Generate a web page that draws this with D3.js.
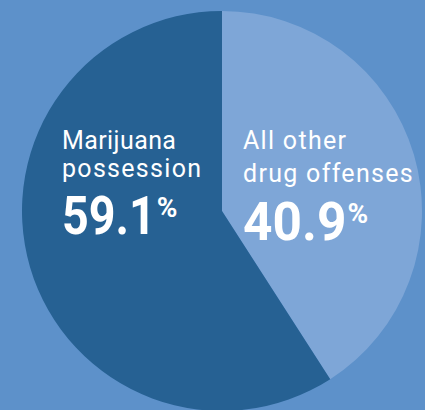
<!DOCTYPE html>
<html>
<head>
<meta charset="utf-8">
<script src="https://cdn.jsdelivr.net/npm/d3@7"></script>
<style>
  html, body { margin: 0; padding: 0; background: #5d91ca; }
  svg { display: block; }
</style>
</head>
<body>
<div class="svg-div"></div>
<script>
// chart data
var categories = ["All other drug offenses", "Marijuana possession"]
var values = [40.9, 59.1]
var labelLines = [["All other", "drug offenses"], ["Marijuana", "possession"]]
var colors = ["#7ea6d7", "#266193"]

var width = 425, height = 410
var cx = 222, cy = 211, radius = 200

var svg = d3.select(".svg-div").append("svg")
    .attr("width", width)
    .attr("height", height)

svg.append("rect")
    .attr("width", width)
    .attr("height", height)
    .attr("fill", "#5d91ca")

var pie = d3.pie().sort(null).value(d => d)
var arc = d3.arc().innerRadius(0).outerRadius(radius)
var arcs = pie(values)

var g = svg.append("g")
    .attr("transform", "translate(" + cx + "," + cy + ")")

g.selectAll("path")
    .data(arcs)
    .join("path")
    .attr("d", arc)
    .attr("fill", (d, i) => colors[i])

// label blocks: x offset from centre, baselines of the two lines and the big number
var labelPos = [
    {x: 21, y: [-62.5, -29], num: 29, squeeze: 0.97},
    {x: -160, y: [-62.5, -34.5], num: 22.5, squeeze: 0.88}
]

var labels = g.selectAll("g.label")
    .data(arcs)
    .join("g")
    .attr("class", "label")
    .attr("transform", (d, i) => "translate(" + labelPos[i].x + ",0)")

labels.each(function (d, i) {
    var lg = d3.select(this)
    labelLines[i].forEach(function (line, j) {
        lg.append("text")
            .attr("x", 0)
            .attr("y", labelPos[i].y[j])
            .attr("fill", "#ffffff")
            .style("font-family", "Roboto, sans-serif")
            .style("font-size", "25px")
            .style("letter-spacing", j == 0 && i == 1 ? "0.4px" : "1.3px")
            .text(line)
    })
    var num = lg.append("text")
        .attr("x", 0)
        .attr("y", labelPos[i].num)
        .attr("fill", "#ffffff")
        .attr("transform", "scale(" + labelPos[i].squeeze + ",1)")
        .style("font-family", "Roboto, sans-serif")
        .style("font-weight", "bold")
        .style("font-size", "53px")
        .text(values[i].toFixed(1))
    var bb = num.node().getBBox()
    lg.append("text")
        .attr("x", (bb.x + bb.width) * labelPos[i].squeeze + 1)
        .attr("y", labelPos[i].num - 17)
        .attr("fill", "#ffffff")
        .style("font-family", "Roboto, sans-serif")
        .style("font-weight", "bold")
        .style("font-size", "28px")
        .text("%")
})
</script>
</body>
</html>
